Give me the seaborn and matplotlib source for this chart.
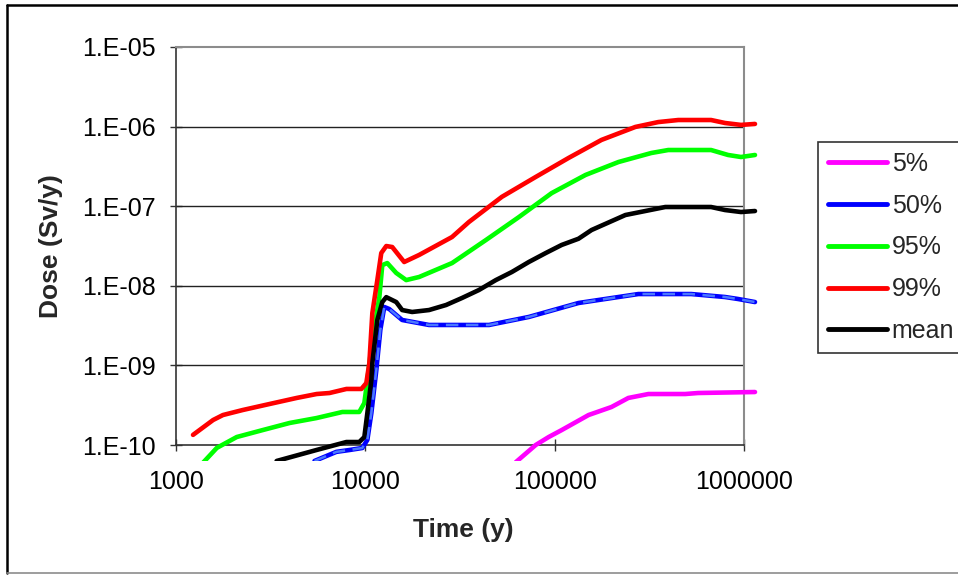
import numpy as np
import pandas as pd
import matplotlib
matplotlib.use("Agg")
import matplotlib.pyplot as plt
from matplotlib.lines import Line2D
from matplotlib.patches import Rectangle
from matplotlib.ticker import FixedLocator, FuncFormatter, NullLocator
import seaborn as sns

# ---- dose curves (time in years, dose in Sv/y) ----
t_p05 = [62400, 79400, 93000, 108900, 151000, 199500, 245000, 312600, 489000, 572000, 1143000]
d_p05 = [6.1e-11, 1.0e-10, 1.26e-10, 1.54e-10, 2.38e-10, 3.0e-10, 3.9e-10, 4.37e-10, 4.37e-10, 4.5e-10, 4.63e-10]

t_p50 = [5390, 7030, 8240, 9640, 10250, 10760, 11430, 12000, 12590, 13370, 15650, 21700,
         45000, 73000, 133600, 276700, 526000, 794000, 929000, 1143000]
d_p50 = [6.3e-11, 8.2e-11, 8.65e-11, 9.17e-11, 1.16e-10, 2.52e-10, 8.75e-10, 2.79e-9, 5.42e-9, 5.11e-9,
         3.72e-9, 3.22e-9, 3.22e-9, 4.06e-9, 6.08e-9, 7.88e-9, 7.88e-9, 7.23e-9, 6.83e-9, 6.25e-9]

t_p95 = [1390, 1643, 2094, 2870, 3980, 5520, 7570, 9290, 9880, 10250, 10890, 11860, 12290, 13060,
         14560, 16440, 19230, 28700, 43350, 64700, 96400, 145600, 217300, 324000, 398000, 670000,
         824000, 964000, 1143000]
d_p95 = [6.0e-11, 9.2e-11, 1.26e-10, 1.54e-10, 1.89e-10, 2.18e-10, 2.6e-10, 2.6e-10, 3.37e-10, 6.56e-10,
         2.09e-9, 7.2e-9, 1.82e-8, 1.93e-8, 1.45e-8, 1.18e-8, 1.29e-8, 1.93e-8, 3.76e-8, 7.3e-8,
         1.46e-7, 2.47e-7, 3.59e-7, 4.66e-7, 5.08e-7, 5.08e-7, 4.4e-7, 4.15e-7, 4.4e-7]

t_p99 = [1230, 1570, 1770, 2250, 3130, 4340, 5530, 6470, 7950, 9530, 10120, 10500, 10890, 11570,
         12140, 12900, 13870, 16040, 19230, 28700, 35240, 52600, 79400, 118500, 176700, 266800,
         352400, 449500, 670000, 794000, 964000, 1143000]
d_p99 = [1.34e-10, 2.06e-10, 2.38e-10, 2.75e-10, 3.28e-10, 3.9e-10, 4.37e-10, 4.5e-10, 5.06e-10, 5.06e-10,
         6.0e-10, 1.07e-9, 4.55e-9, 1.18e-8, 2.58e-8, 3.16e-8, 3.07e-8, 1.99e-8, 2.44e-8, 4.1e-8,
         6.33e-8, 1.31e-7, 2.33e-7, 4.04e-7, 6.8e-7, 9.9e-7, 1.14e-6, 1.21e-6, 1.21e-6, 1.11e-6,
         1.05e-6, 1.08e-6]

t_mean = [3400, 5520, 7940, 9290, 9880, 10250, 10760, 10890, 11570, 12290, 12900, 14560, 15650, 17670,
          21700, 26700, 32400, 39800, 48900, 59400, 73000, 89700, 108900, 133600, 156600, 236400,
          384000, 670000, 794000, 964000, 1143000]
d_mean = [6.3e-11, 8.65e-11, 1.09e-10, 1.09e-10, 1.26e-10, 2.52e-10, 6.56e-10, 1.07e-9, 3.72e-9, 6.25e-9,
          7.2e-9, 6.25e-9, 4.96e-9, 4.69e-9, 4.96e-9, 5.74e-9, 7.03e-9, 8.85e-9, 1.18e-8, 1.49e-8,
          1.99e-8, 2.58e-8, 3.26e-8, 3.9e-8, 5.02e-8, 7.75e-8, 9.77e-8, 9.77e-8, 8.95e-8, 8.45e-8, 8.7e-8]

series_names = ["5%", "50%", "95%", "99%", "mean"]
series_colors = ["#FF00FF", "#0000FF", "#00FF00", "#FF0000", "#000000"]
y_ticks = [1e-10, 1e-9, 1e-8, 1e-7, 1e-6, 1e-5]
x_ticks = [1000, 10000, 100000, 1000000]

frames = []
for name, t, d in zip(series_names,
                      [t_p05, t_p50, t_p95, t_p99, t_mean],
                      [d_p05, d_p50, d_p95, d_p99, d_mean]):
    frames.append(pd.DataFrame({"Time": t, "Dose": d, "series": name}))
df = pd.concat(frames, ignore_index=True)

sns.set_theme(style="white")
plt.rcParams["font.family"] = ["Liberation Sans", "DejaVu Sans"]

W, H = 958, 575
fig = plt.figure(figsize=(W / 100, H / 100), dpi=100)
ax = fig.add_axes([176 / W, 1 - 445 / H, (744 - 176) / W, (445 - 47) / H])

ax.set_xscale("log")
ax.set_yscale("log")

for name, color in zip(series_names, series_colors):
    sub = df[df["series"] == name]
    sns.lineplot(data=sub, x="Time", y="Dose", sort=False, estimator=None,
                 color=color, lw=3.3, ax=ax, legend=False, zorder=3)
# lighter dashed trace over the median curve
sub = df[df["series"] == "50%"]
sns.lineplot(data=sub, x="Time", y="Dose", sort=False, estimator=None,
             color="#4A78FF", lw=1.8, ax=ax, legend=False, zorder=4)
ax.lines[-1].set_dashes([5, 3])

# curves may run slightly past the axis box (plot area is a bit larger)
clip = Rectangle((0, -0.04), 1.05, 1.04, transform=ax.transAxes, fill=False)
for ln in ax.lines:
    ln.set_clip_path(clip)

ax.set_xlim(1000, 1000000)
ax.set_ylim(1e-10, 1e-5)

ax.xaxis.set_major_locator(FixedLocator(x_ticks))
ax.xaxis.set_minor_locator(NullLocator())
ax.yaxis.set_major_locator(FixedLocator(y_ticks))
ax.yaxis.set_minor_locator(NullLocator())
ax.xaxis.set_major_formatter(FuncFormatter(lambda v, p: f"{int(round(v))}"))
ax.yaxis.set_major_formatter(FuncFormatter(lambda v, p: f"1.E-{abs(int(round(np.log10(v)))):02d}"))

ax.tick_params(axis="both", which="major", direction="inout", length=8.5, width=1.0,
               color="#333333", labelsize=18, labelcolor="black",
               left=True, bottom=True)
ax.tick_params(axis="y", pad=10.5)
ax.tick_params(axis="x", pad=14)

ax.grid(False)
for yv in y_ticks[1:-1]:
    ax.axhline(yv, color="#222222", lw=1.0, zorder=1)

for side in ["left", "bottom"]:
    ax.spines[side].set_color("#333333")
    ax.spines[side].set_linewidth(1.2)
for side in ["top", "right"]:
    ax.spines[side].set_color("#8C8C8C")
    ax.spines[side].set_linewidth(1.5)

ax.set_xlabel("Time (y)", fontsize=19, fontweight="bold")
ax.set_ylabel("Dose (Sv/y)", fontsize=19, fontweight="bold")
ax.xaxis.label.set_va("center")
ax.yaxis.label.set_va("center")
ax.xaxis.set_label_coords((463 - 176) / 568, (445 - 530) / 398)
ax.yaxis.set_label_coords((51 - 176) / 568, 0.5)

handles = [Line2D([0], [0], color=c, lw=3.5, solid_capstyle="round") for c in series_colors]
leg = fig.legend(handles, series_names, loc="upper left",
                 bbox_to_anchor=(818 / W, 1 - 142 / H), bbox_transform=fig.transFigure,
                 fontsize=18, frameon=True, fancybox=False, framealpha=1,
                 handlelength=2.35, handletextpad=0.2, borderpad=0.4,
                 labelspacing=0.71, borderaxespad=0)
leg.get_frame().set_edgecolor("#333333")
leg.get_frame().set_linewidth(1.2)

# outer chart frame
fig.add_artist(Line2D([7 / W, 7 / W], [1 - 5 / H, 1 - 573 / H], transform=fig.transFigure,
                      color="black", lw=1.8))
fig.add_artist(Line2D([7 / W, 1.0], [1 - 5 / H, 1 - 5 / H], transform=fig.transFigure,
                      color="black", lw=1.8))
fig.add_artist(Line2D([7 / W, 1.0], [1 - 573 / H, 1 - 573 / H], transform=fig.transFigure,
                      color="#8C8C8C", lw=1.2))

fig.savefig("out.png", dpi=100, facecolor="white")
